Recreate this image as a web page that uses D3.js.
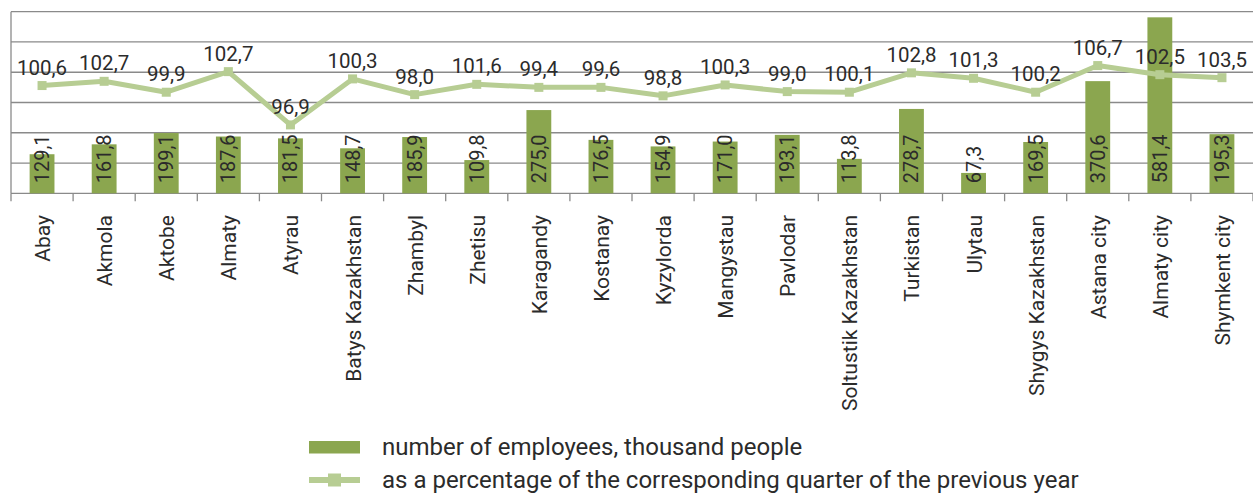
<!DOCTYPE html>
<html>
<head>
<meta charset="utf-8">
<script src="https://cdn.jsdelivr.net/npm/d3@7"></script>
<style>
  html, body { margin: 0; padding: 0; background: #fff; }
  svg { display: block; font-family: Roboto, "Noto Sans", sans-serif; }
</style>
</head>
<body>
<svg id="chart" width="1253" height="493"></svg>
<script>
// ---- data ----
const categories = ["Abay","Akmola","Aktobe","Almaty","Atyrau","Batys Kazakhstan","Zhambyl","Zhetisu",
  "Karagandy","Kostanay","Kyzylorda","Mangystau","Pavlodar","Soltustik Kazakhstan","Turkistan","Ulytau",
  "Shygys Kazakhstan","Astana city","Almaty city","Shymkent city"];
const employees = [129.1,161.8,199.1,187.6,181.5,148.7,185.9,109.8,275.0,176.5,154.9,171.0,193.1,113.8,278.7,67.3,169.5,370.6,581.4,195.3];
// printed labels of the percentage series
const percentLabels = [100.6,102.7,99.9,102.7,96.9,100.3,98.0,101.6,99.4,99.6,98.8,100.3,99.0,100.1,102.8,101.3,100.2,106.7,102.5,103.5];
// percentage series as it is drawn on the (hidden) secondary axis
const percentLine = [102.8,103.5,101.7,105.1,96.3,103.9,101.3,103.0,102.5,102.5,101.1,102.9,101.8,101.7,104.9,104.0,101.7,106.1,104.6,104.1];
const yTicks = [0,100,200,300,400,500,600];
const seriesNames = ["number of employees, thousand people","as a percentage of the corresponding quarter of the previous year"];

(function () {
const fmt = v => v.toFixed(1).replace(".", ",");

const barColor = "#8ba64f";
const lineColor = "#b7cd93";
const gridColor = "#8a8a8a";
const textColor = "#2b2b2b";

const svg = d3.select("#chart");
const pL = 11, pR = 1253, pT = 11.7, pB = 193.3;

const x = d3.scaleBand().domain(categories).range([pL, pR]).paddingInner(0.6).paddingOuter(0.3);
const y = d3.scaleLinear().domain([0, 600]).range([pB, pT]);
const y2 = d3.scaleLinear().domain([85, 115]).range([pB, pT]);
const step = x.step();
const cx = d => x(d) + x.bandwidth() / 2;

// gridlines
svg.append("g").selectAll("line").data(yTicks).join("line")
  .attr("x1", pL).attr("x2", pR)
  .attr("y1", d => y(d)).attr("y2", d => y(d))
  .attr("stroke", gridColor).attr("stroke-width", 1.3);

// left axis line
svg.append("line").attr("x1", pL).attr("x2", pL).attr("y1", y(600)).attr("y2", y(0))
  .attr("stroke", gridColor).attr("stroke-width", 1.3);

// bottom ticks between categories
const tickPos = categories.map((c, i) => i).concat([categories.length]);
svg.append("g").selectAll("line").data(tickPos).join("line")
  .attr("x1", i => pL + i * step).attr("x2", i => pL + i * step)
  .attr("y1", y(0)).attr("y2", y(0) + 8)
  .attr("stroke", gridColor).attr("stroke-width", 1.3);

// bars
svg.append("g").selectAll("rect").data(categories).join("rect")
  .attr("x", d => x(d)).attr("width", x.bandwidth())
  .attr("y", (d, i) => y(employees[i])).attr("height", (d, i) => y(0) - y(employees[i]))
  .attr("fill", barColor);

// bar labels (rotated)
svg.append("g").selectAll("text").data(categories).join("text")
  .attr("transform", d => `translate(${cx(d)},${y(0) - 10}) rotate(-90)`)
  .attr("dy", "0.35em")
  .attr("text-anchor", "start")
  .attr("font-size", 20).attr("fill", textColor)
  .text((d, i) => fmt(employees[i]));

// line
const line = d3.line().x(d => cx(d)).y((d, i) => y2(percentLine[i]));
svg.append("path").datum(categories).attr("d", line)
  .attr("fill", "none").attr("stroke", lineColor).attr("stroke-width", 5)
  .attr("stroke-linejoin", "round");
svg.append("g").selectAll("rect").data(categories).join("rect")
  .attr("x", d => cx(d) - 4.5).attr("y", (d, i) => y2(percentLine[i]) - 4.5)
  .attr("width", 9).attr("height", 9).attr("fill", lineColor);

// line labels
svg.append("g").selectAll("text").data(categories).join("text")
  .attr("x", d => cx(d)).attr("y", (d, i) => y2(percentLine[i]) - 11)
  .attr("text-anchor", "middle")
  .attr("font-size", 20.5).attr("fill", textColor)
  .text((d, i) => fmt(percentLabels[i]));

// category labels
svg.append("g").selectAll("text").data(categories).join("text")
  .attr("transform", d => `translate(${cx(d)},215) rotate(-90)`)
  .attr("dy", "0.38em")
  .attr("text-anchor", "end")
  .attr("font-size", 21).attr("fill", textColor)
  .text(d => d);

// legend
const lg = svg.append("g");
lg.append("rect").attr("x", 309).attr("y", 441).attr("width", 51).attr("height", 12.5).attr("fill", barColor);
lg.append("line").attr("x1", 309).attr("x2", 360).attr("y1", 480).attr("y2", 480)
  .attr("stroke", lineColor).attr("stroke-width", 6);
lg.append("rect").attr("x", 328).attr("y", 473.5).attr("width", 13).attr("height", 13).attr("fill", lineColor);
lg.selectAll("text").data(seriesNames).join("text")
  .attr("x", 382).attr("y", (d, i) => 447 + i * 33)
  .attr("dy", "0.35em")
  .attr("font-size", 24).attr("fill", textColor)
  .text(d => d);
})();
</script>
</body>
</html>
